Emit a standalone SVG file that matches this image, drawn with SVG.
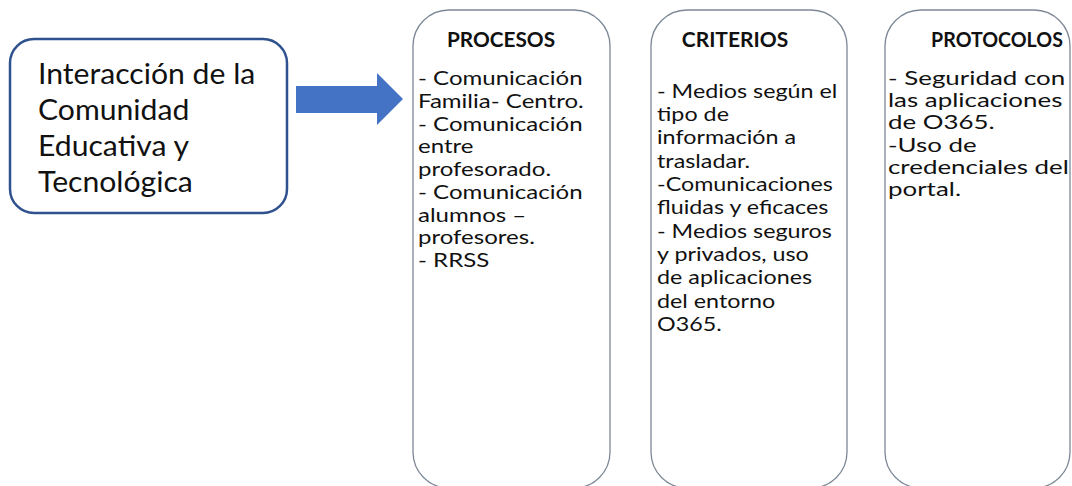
<svg xmlns="http://www.w3.org/2000/svg" width="1072" height="486" viewBox="0 0 1072 486">
<style>
.main{fill:#fff;stroke:#2F528F;stroke-width:2.5}
.col{fill:#fff;stroke:#7D8896;stroke-width:1.3}
.t{font-family:Lato,"Open Sans","Liberation Sans",sans-serif;fill:#111}
.big{font-size:29px}
.body{font-size:18.5px}
.title{font-size:20px;font-weight:bold;text-anchor:middle}
</style>
<rect width="1072" height="486" fill="#fff"/>
<g id="interaccion">
<rect class="main" x="10" y="39" width="277" height="174" rx="24"/>
<text class="t big" transform="translate(38,0) scale(1.04,1)" x="0" y="84">Interacción de la<tspan x="0" y="120">Comunidad</tspan><tspan x="0" y="156">Educativa y</tspan><tspan x="0" y="192">Tecnológica</tspan></text>
</g>
<g id="connectors">
<polygon points="296,86 377,86 377,73 403,99 377,125 377,113 296,113" fill="#4472C4"/>
</g>
<g id="procesos">
<rect class="col" x="413" y="10" width="197" height="478" rx="36"/>
<text class="t title" transform="translate(501,47) scale(1.04,1)" x="0" y="0">PROCESOS</text>
<text class="t body" transform="translate(418,0) scale(1.3,1)" x="0" y="85">- Comunicación<tspan x="0" y="108">Familia- Centro.</tspan><tspan x="0" y="131">- Comunicación</tspan><tspan x="0" y="153">entre</tspan><tspan x="0" y="176">profesorado.</tspan><tspan x="0" y="199">- Comunicación</tspan><tspan x="0" y="222">alumnos –</tspan><tspan x="0" y="244">profesores.</tspan><tspan x="0" y="267">- RRSS</tspan></text>
</g>
<g id="criterios">
<rect class="col" x="651" y="10" width="196" height="478" rx="36"/>
<text class="t title" transform="translate(735,47) scale(1.05,1)" x="0" y="0">CRITERIOS</text>
<text class="t body" transform="translate(657,0) scale(1.26,1)" x="0" y="98">- Medios según el<tspan x="0" y="121">tipo de</tspan><tspan x="0" y="144">información a</tspan><tspan x="0" y="168">trasladar.</tspan><tspan x="0" y="191">-Comunicaciones</tspan><tspan x="0" y="214">fluidas y eficaces</tspan><tspan x="0" y="238">- Medios seguros</tspan><tspan x="0" y="261">y privados, uso</tspan><tspan x="0" y="284">de aplicaciones</tspan><tspan x="0" y="308">del entorno</tspan><tspan x="0" y="331">O365.</tspan></text>
</g>
<g id="protocolos">
<rect class="col" x="885" y="10" width="185" height="478" rx="36"/>
<text class="t title" transform="translate(997,47) scale(0.98,1)" x="0" y="0">PROTOCOLOS</text>
<text class="t body" transform="translate(888,0) scale(1.4,1)" x="0" y="85">- Seguridad con<tspan x="0" y="107">las aplicaciones</tspan><tspan x="0" y="129">de O365.</tspan><tspan x="0" y="152">-Uso de</tspan><tspan x="0" y="174">credenciales del</tspan><tspan x="0" y="196">portal.</tspan></text>
</g>
</svg>
